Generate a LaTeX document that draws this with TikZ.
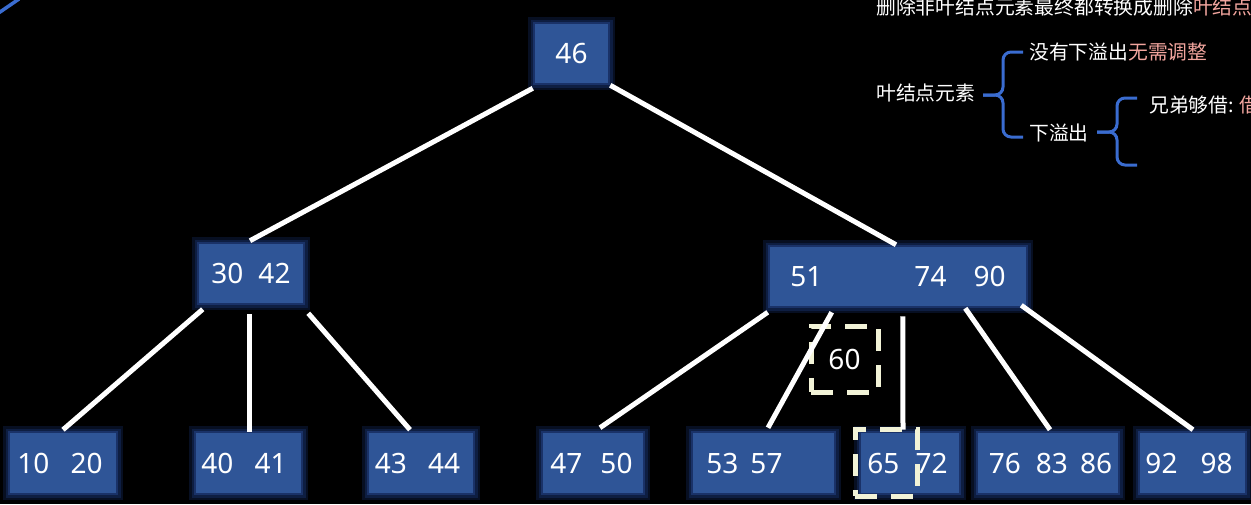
\documentclass[tikz,border=0pt]{standalone}
\usepackage{fontspec}
\setmainfont{Noto Sans}
\newfontfamily\cjk{Noto Sans CJK SC}
\usetikzlibrary{calc}
\newlength\mypx \setlength\mypx{0.75pt}
\newcommand\numgap[1]{\kern#1\mypx}
\newcommand\numfont{\fontsize{21pt}{22pt}\selectfont}
\newcommand\cjkfont{\cjk\fontsize{14.85pt}{16pt}\selectfont}
\definecolor{boxblue}{RGB}{47,85,151}
\definecolor{glowin}{RGB}{26,50,104}
\definecolor{glowmid}{RGB}{14,30,66}
\definecolor{glowout}{RGB}{7,15,34}
\definecolor{cream}{RGB}{242,243,215}
\definecolor{hlpink}{RGB}{242,165,158}
\definecolor{braceblue}{RGB}{58,108,208}
\begin{document}
\begin{tikzpicture}[x=0.75pt,y=-0.75pt,
  bbox/.style={rectangle, fill=boxblue, inner sep=0pt, minimum height=60\mypx, text=white, font=\numfont,
    preaction={draw=glowout, line width=14\mypx}, preaction={draw=glowmid, line width=9\mypx},
    preaction={draw=glowin, line width=4\mypx}},
  edge/.style={draw=white, line width=5\mypx},
  dbox/.style={rectangle, draw=cream, line width=5\mypx, dash pattern=on 22\mypx off 14\mypx, inner sep=0pt, text=white, font=\numfont},
  brace/.style={draw=braceblue, line width=3\mypx, rounded corners=8\mypx},
  note/.style={anchor=west, inner sep=0pt, text=white, font=\cjkfont}]
\fill[black] (0,0) rectangle (1251,504);
\useasboundingbox (0,0) rectangle (1251,504);
% top-left partial stroke
\draw[draw=braceblue, line width=3.5\mypx] (-2,13.4) -- (19,-1);
% tree nodes
\node[bbox, minimum width=73\mypx, minimum height=59\mypx] (n46) at (571.5,53.5) {46};
\node[bbox, minimum width=104\mypx, minimum height=59\mypx] (n3042) at (251,273.5) {30\numgap{15}42};
\node[bbox, minimum width=256\mypx, minimum height=59\mypx] (nR) at (898,276.5) {51\numgap{92}74\numgap{27}90};
\node[bbox, minimum width=106\mypx] (n1020) at (63,463) {10\numgap{21}20\numgap{6}};
\node[bbox, minimum width=105\mypx] (n4041) at (248.5,463) {40\numgap{21}41\numgap{9}};
\node[bbox, minimum width=104\mypx] (n4344) at (421,463) {43\numgap{21}44\numgap{7}};
\node[bbox, minimum width=100\mypx] (n4750) at (593,463) {47\numgap{18}50\numgap{3}};
\node[bbox, minimum width=141\mypx] (n5357) at (763.5,463) {53\numgap{12}57\numgap{38}};
\node[bbox, minimum width=98\mypx] (n6572) at (910,463) {65\numgap{16}72\numgap{5}};
\node[bbox, minimum width=140\mypx] (n768386) at (1048,463) {\numgap{5}76\numgap{15}83\numgap{12}86};
\node[bbox, minimum width=105\mypx] (n9298) at (1192.5,463) {92\numgap{23}98\numgap{7}};
% dashed highlight boxes
\node[dbox, minimum width=67\mypx, minimum height=66\mypx] (n60) at (844.5,359) {60};
\node[dbox, minimum width=62\mypx, minimum height=67\mypx] (hl65) at (886,462.5) {};
% edges
\draw[edge] ($(n46.south west)+(-2,5)$) -- ($(n3042.north)+(-1,-3)$);
\draw[edge] ($(n46.south east)+(2,2)$) -- ($(nR.north)+(-2,-2)$);
\draw[edge] ($(n3042.south west)+(4,6)$) -- ($(n1020.north)+(0,-3)$);
\draw[edge] ($(n3042.south)+(-2,11)$) -- ($(n4041.north)+(0.5,-1)$);
\draw[edge] ($(n3042.south east)+(5,10)$) -- ($(n4344.north)+(-11,-3)$);
\draw[edge] ($(nR.south west)+(-2,6)$) -- ($(n4750.north)+(7,-5)$);
\draw[edge] ($(nR.south west)+(62,6)$) -- ($(n5357.north)+(4.5,-5)$);
\draw[edge] ($(nR.south west)+(133,10)$) -- ($(n6572.north)+(-7,-3)$);
\draw[edge] ($(nR.south east)+(-61,2)$) -- ($(n768386.north)+(2,-3)$);
\draw[edge] ($(nR.south east)+(-5,-1)$) -- ($(n9298.north)+(0.5,-3)$);
% notes on the right
\node[note] (title) at (876,6.5) {删除非叶结点元素最终都转换成删除{\color{hlpink}叶结点}};
\node[note] (leaf) at (876,92.5) {叶结点元素};
\node[note] (noover) at (1029,52) {没有下溢出{\color{hlpink}无需调整}};
\node[note] (under) at (1029,133) {下溢出};
\node[note] (borrow) at (1149,105) {兄弟够借: {\color{hlpink}借}};
\coordinate (b1tip) at (983,95);
\coordinate (b1top) at (1023,52);
\coordinate (b1bot) at (1023,137);
\draw[brace] (b1top) -- (1003,52) -- (1003,95) -- (b1tip);
\draw[brace] (b1tip) -- (1003,95) -- (1003,137) -- (b1bot);
\coordinate (b2tip) at (1097,132);
\coordinate (b2top) at (1137,98);
\coordinate (b2bot) at (1137,165);
\draw[brace] (b2top) -- (1117,98) -- (1117,132) -- (b2tip);
\draw[brace] (b2tip) -- (1117,132) -- (1117,165) -- (b2bot);
\end{tikzpicture}
\end{document}
